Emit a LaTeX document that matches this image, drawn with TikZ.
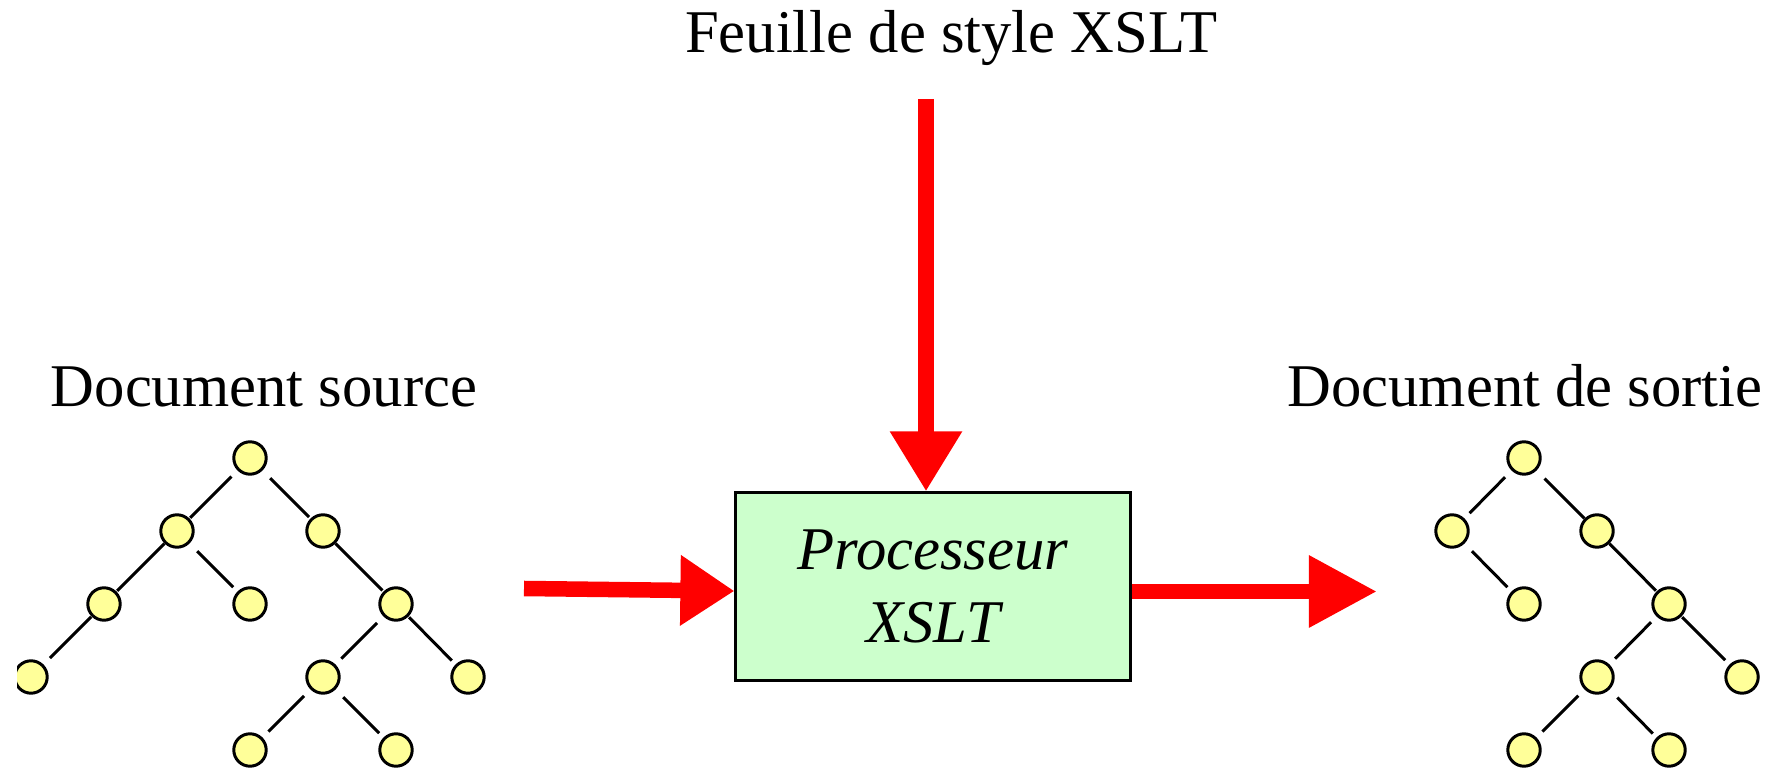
\documentclass[tikz,border=0pt]{standalone}
\usepackage{fontspec}
\setmainfont{Liberation Serif}
\usetikzlibrary{arrows.meta}
\definecolor{procgreen}{HTML}{CCFFCC}
\definecolor{leafyellow}{HTML}{FFFF99}
\begin{document}
\begin{tikzpicture}[x=0.01cm, y=-0.01cm,
  font=\fontsize{17.25pt}{20.77pt}\selectfont,
  tn/.style={circle, draw=black, line width=0.85pt, fill=leafyellow,
             minimum size=0.324cm, inner sep=0pt},
  link/.style={draw=black, line width=0.85pt},
  label/.style={anchor=base, inner sep=0pt},
  procbox/.style={draw=black, line width=0.85pt, fill=procgreen,
                  minimum width=3.94cm, minimum height=1.87cm,
                  align=center, inner sep=0pt, font=\fontsize{17.25pt}{20.77pt}\selectfont\itshape},
  flow/.style={draw=red, line width=0.155cm}
]
\useasboundingbox (0,0) rectangle (1780,771);

% titles
\node[label] (title) at (951,53) {Feuille de style XSLT};
\node[label] (srclabel) at (264,407) {Document source};
\node[label] (outlabel) at (1525,407) {Document de sortie};

% processor
\node[procbox] (proc) at (933,586.5) {Processeur\\XSLT};

% arrows
\coordinate (sheet) at (926,99);
\coordinate (input) at (524,588.5);
\coordinate (output) at (1377,591.5);
\draw[flow, -{Triangle[length=0.6cm, width=0.68cm]}] (sheet) -- (sheet |- proc.north);
\draw[flow, -{Triangle[length=0.54cm, width=0.67cm]}] (input) -- ([yshift=-0.045cm]proc.west);
\draw[flow, -{Triangle[length=0.68cm, width=0.68cm]}] (proc.east |- output) -- (output);

% source tree
\node[tn] (s0) at (250,458) {};
\node[tn] (s1) at (177,531) {};
\node[tn] (s2) at (323,531) {};
\node[tn] (s3) at (104,604) {};
\node[tn] (s4) at (250,604) {};
\node[tn] (s5) at (396,604) {};
\begin{scope}
  \clip (17,640) rectangle (70,720);
  \node[tn] (s6) at (31,677) {};
\end{scope}
\node[tn] (s7) at (323,677) {};
\node[tn] (s8) at (468,677) {};
\node[tn] (s9) at (250,750) {};
\node[tn] (s10) at (396,750) {};

\draw[link, shorten <=0.085cm, shorten >=0.01cm] (s0) -- (s1);
\draw[link, shorten <=0.108cm, shorten >=0.02cm] (s0) -- (s2);
\draw[link, shorten <=0cm, shorten >=0.01cm] (s1) -- (s3);
\draw[link, shorten <=0.108cm, shorten >=0.06cm] (s1) -- (s4);
\draw[link, shorten <=0cm, shorten >=0.014cm] (s2) -- (s5);
\draw[link, shorten <=0.005cm, shorten >=0.09cm] (s3) -- (s6);
\draw[link, shorten <=0.09cm, shorten >=0.082cm] (s5) -- (s7);
\draw[link, shorten <=0.009cm, shorten >=0.054cm] (s5) -- (s8);
\draw[link, shorten <=0.09cm, shorten >=0.083cm] (s7) -- (s9);
\draw[link, shorten <=0.109cm, shorten >=0.061cm] (s7) -- (s10);

% output tree
\node[tn] (t0) at (1524,458) {};
\node[tn] (t1) at (1452,531) {};
\node[tn] (t2) at (1597,531) {};
\node[tn] (t3) at (1524,604) {};
\node[tn] (t4) at (1669,604) {};
\node[tn] (t5) at (1597,677) {};
\node[tn] (t6) at (1742,677) {};
\node[tn] (t7) at (1524,750) {};
\node[tn] (t8) at (1669,750) {};

\draw[link, shorten <=0.092cm, shorten >=0.073cm] (t0) -- (t1);
\draw[link, shorten <=0.113cm, shorten >=0cm] (t0) -- (t2);
\draw[link, shorten <=0.106cm, shorten >=0.059cm] (t1) -- (t3);
\draw[link, shorten <=0cm, shorten >=0.009cm] (t2) -- (t4);
\draw[link, shorten <=0.078cm, shorten >=0.08cm] (t4) -- (t5);
\draw[link, shorten <=0.01cm, shorten >=0.061cm] (t4) -- (t6);
\draw[link, shorten <=0.087cm, shorten >=0.083cm] (t5) -- (t7);
\draw[link, shorten <=0.111cm, shorten >=0.054cm] (t5) -- (t8);
\end{tikzpicture}
\end{document}
